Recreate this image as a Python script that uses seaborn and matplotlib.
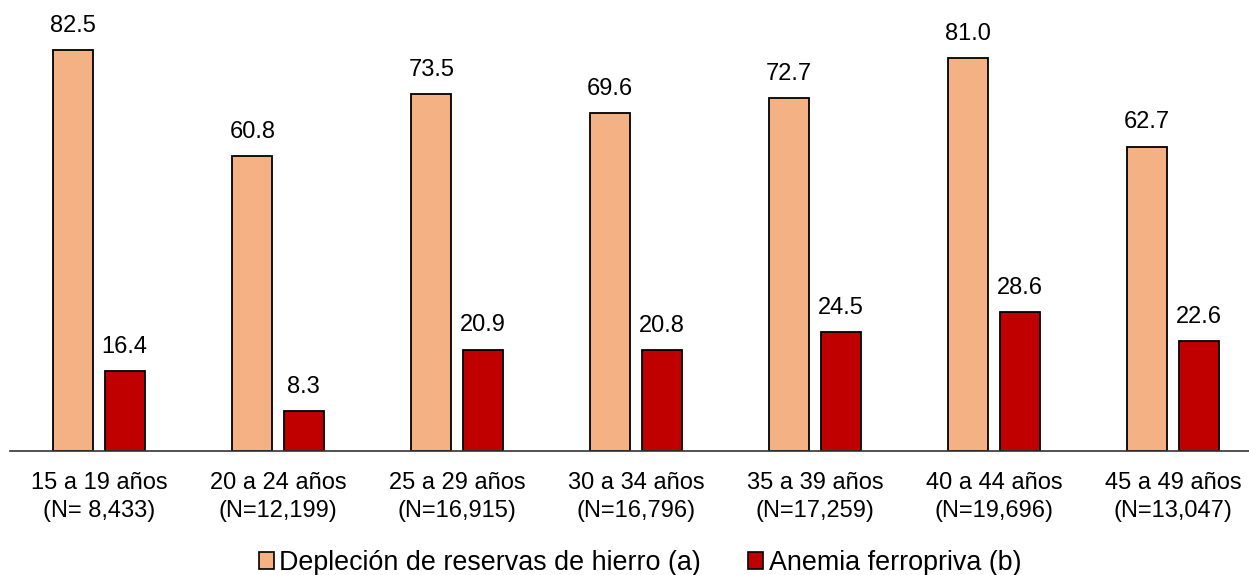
import matplotlib
matplotlib.use("Agg")
import matplotlib.pyplot as plt
import seaborn as sns
import pandas as pd
from matplotlib.patches import Patch

categories = ["15 a 19 años\n(N= 8,433)", "20 a 24 años\n(N=12,199)", "25 a 29 años\n(N=16,915)",
              "30 a 34 años\n(N=16,796)", "35 a 39 años\n(N=17,259)", "40 a 44 años\n(N=19,696)",
              "45 a 49 años\n(N=13,047)"]
series_names = ["Depleción de reservas de hierro (a)", "Anemia ferropriva (b)"]
depletion = [82.5, 60.8, 73.5, 69.6, 72.7, 81.0, 62.7]
anemia = [16.4, 8.3, 20.9, 20.8, 24.5, 28.6, 22.6]
colors = ["#F4B183", "#C00000"]

df = pd.DataFrame({
    "grupo": categories * 2,
    "serie": [series_names[0]] * len(categories) + [series_names[1]] * len(categories),
    "valor": depletion + anemia,
})

sns.set_theme(style="white")
plt.rcParams["font.family"] = ["Liberation Sans", "DejaVu Sans"]
plt.rcParams["text.color"] = "black"
plt.rcParams["xtick.color"] = "black"

W, H = 1249, 575
fig = plt.figure(figsize=(W / 100, H / 100), dpi=100)
ax = fig.add_axes([9.5 / W, (H - 451) / H, 1253 / W, 437 / H])

sns.barplot(data=df, x="grupo", y="valor", hue="serie", palette=colors, saturation=1,
            width=0.575, gap=0.224, edgecolor="black", linewidth=1.3,
            legend=False, ax=ax)

ax.set_xlim(-0.5, len(categories) - 0.5)
ax.set_ylim(0, 90)
for c in ax.containers:
    ax.bar_label(c, labels=[f"{v:.1f}" for v in c.datavalues], padding=9.5, fontsize=17,
                 color="black")

ax.set_xlabel("")
ax.set_ylabel("")
ax.set_yticks([])
ax.tick_params(axis="x", length=0, labelsize=17, pad=15, labelcolor="black")
for lbl in ax.get_xticklabels():
    lbl.set_linespacing(1.38)
for s in ["top", "right", "left"]:
    ax.spines[s].set_visible(False)
ax.spines["bottom"].set_color("#333333")
ax.spines["bottom"].set_linewidth(1.2)

handles = [Patch(facecolor=colors[i], edgecolor="black", linewidth=1.2, label=series_names[i])
           for i in range(2)]
fig.legend(handles=handles, loc="center", bbox_to_anchor=(0.5125, 1 - 563 / H), ncol=2,
           frameon=False, fontsize=19.4, handlelength=0.55, handleheight=0.55,
           handletextpad=0.2, columnspacing=1.75, borderaxespad=0, borderpad=0)

fig.savefig("out.png", dpi=100)
